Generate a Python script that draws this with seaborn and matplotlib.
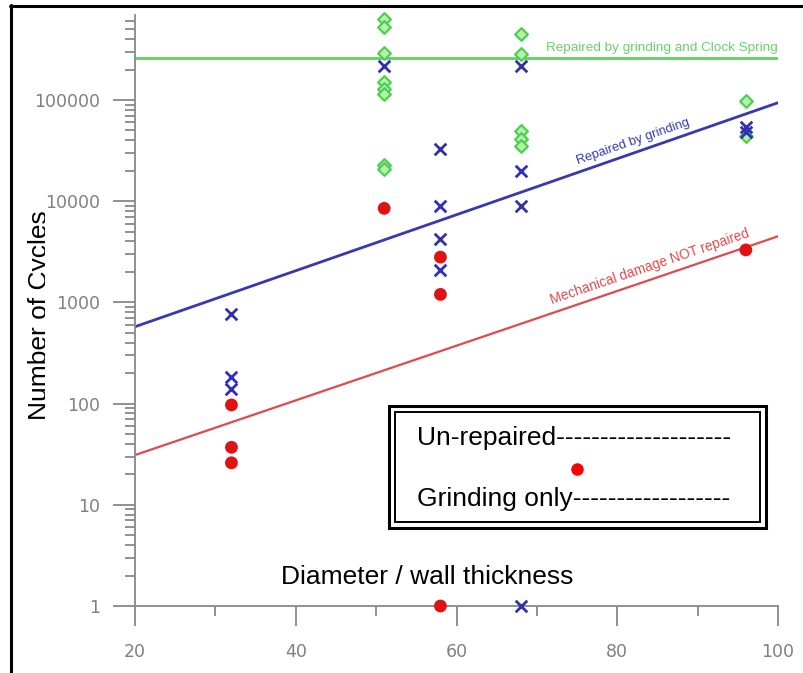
import numpy as np
import matplotlib
matplotlib.use("Agg")
import matplotlib.pyplot as plt
import seaborn as sns
from matplotlib.patches import Rectangle
from matplotlib.lines import Line2D
from matplotlib.ticker import LogLocator, NullFormatter

sns.set_theme(style="white")
plt.rcParams["font.family"] = ["Liberation Sans", "DejaVu Sans"]
plt.rcParams["text.color"] = "black"

# un-repaired specimens (red dots)
unrep_x = [32, 32, 32, 51, 58, 58, 58, 96]
unrep_y = [97, 37, 26, 8500, 2800, 1200, 1, 3300]

# repaired by grinding only (blue crosses)
grind_x = [32, 32, 32, 51, 58, 58, 58, 58, 68, 68, 68, 68, 96, 96]
grind_y = [776, 185, 141, 218000, 32500, 8900, 4200, 2100, 218000, 20000, 8900, 1, 54000, 48000]

# repaired by grinding and clock spring (green diamonds)
clock_x = [51, 51, 51, 51, 51, 51, 51, 51, 68, 68, 68, 68, 68, 96, 96]
clock_y = [630000, 530000, 293000, 150000, 128000, 115000, 23000, 21000,
           447000, 286000, 49000, 41000, 35000, 98000, 44000]

# trend lines (end values at x = 20 and x = 100)
fit_x = [20, 100]
fit_unrep = [31, 4500]
fit_grind = [575, 94000]
fit_clock = [262000, 262000]

yticks = [1, 10, 100, 1000, 10000, 100000]
ytick_labels = ["1", "10", "100", "1000", "10000", "100000"]
xticks = [20, 40, 60, 80, 100]

W, H = 804, 673


def px(x, y):
    # pixel position (from top-left) -> figure fraction
    return x / W, 1 - y / H


fig = plt.figure(figsize=(W / 100, H / 100), dpi=100)
ax = fig.add_axes([135 / W, 67 / H, 643 / W, 591 / H])
ax.set_yscale("log")
ax.set_xlim(20, 100)
ax.set_ylim(1, 10 ** 5.84)

# white strip that hides the right edge of the y title (as in the scanned original)
cover = fig.add_axes([45.5 / W, 0, 89 / W, 1 - 8 / H], zorder=-0.5)
cover.set_facecolor("white")
cover.set_xticks([])
cover.set_yticks([])
for sp in cover.spines.values():
    sp.set_visible(False)

# trend lines
sns.lineplot(x=fit_x, y=fit_clock, color="#5fd35f", lw=2, ax=ax)
sns.lineplot(x=fit_x, y=fit_grind, color="#3838b0", lw=2, ax=ax)
sns.lineplot(x=fit_x, y=fit_unrep, color="#e04a4a", lw=1.6, ax=ax)

# data points
sns.scatterplot(x=clock_x, y=clock_y, marker="D", s=42, color="#b5f0ad",
                edgecolor="#4fcf4f", linewidth=1.6, ax=ax, zorder=4, clip_on=False)
sns.scatterplot(x=grind_x, y=grind_y, marker="x", s=70, color="#3030b0",
                linewidth=2, ax=ax, zorder=5, clip_on=False)
sns.scatterplot(x=unrep_x, y=unrep_y, marker="o", s=85, color="#e01212",
                edgecolor="none", ax=ax, zorder=6, clip_on=False)


def line_angle(yv):
    p1 = ax.transData.transform((fit_x[0], yv[0]))
    p2 = ax.transData.transform((fit_x[1], yv[1]))
    return np.degrees(np.arctan2(p2[1] - p1[1], p2[0] - p1[0]))


def line_at(x, yv):
    return 10 ** np.interp(x, fit_x, np.log10(yv))


ax.annotate("Repaired by grinding and Clock Spring", xy=(100, fit_clock[1]),
            xytext=(0, 3), textcoords="offset points", ha="right", va="bottom",
            fontsize=9.7, color="#66d466")
ax.annotate("Repaired by grinding", xy=(82.2, line_at(82.2, fit_grind)),
            xytext=(0, 4), textcoords="offset points", ha="center", va="bottom",
            rotation=line_angle(fit_grind), rotation_mode="anchor",
            fontsize=9.3, color="#3838b0")
ax.annotate("Mechanical damage NOT repaired", xy=(84.3, line_at(84.3, fit_unrep)),
            xytext=(0, 4), textcoords="offset points", ha="center", va="bottom",
            rotation=line_angle(fit_unrep), rotation_mode="anchor",
            fontsize=9.8, color="#e04a4a")

# axes styling
for side in ["top", "right"]:
    ax.spines[side].set_visible(False)
for side in ["left", "bottom"]:
    ax.spines[side].set_color("#888888")
    ax.spines[side].set_linewidth(1.3)

ax.set_yticks(yticks, labels=ytick_labels)
ax.yaxis.set_minor_locator(LogLocator(base=10, subs=np.arange(2, 10)))
ax.yaxis.set_minor_formatter(NullFormatter())
ax.set_xticks(xticks)
ax.set_xticks([30, 50, 70, 90], minor=True)
ax.tick_params(left=True, bottom=True, which="both", direction="out",
               color="#888888", width=1.3, labelcolor="#808080",
               labelfontfamily="DejaVu Sans", labelsize=12.5)
ax.tick_params(axis="y", which="major", length=16, pad=9)
ax.tick_params(axis="y", which="minor", length=7)
ax.tick_params(axis="x", which="major", length=14.5, pad=12)
ax.tick_params(axis="x", which="minor", length=7.5)
ax.grid(False)

# axis titles
fig.text(*px(427, 577), "Diameter / wall thickness", fontsize=19,
         ha="center", va="center")
fig.text(*px(47.5, 315), "Number of Cycles", fontsize=19, rotation=90,
         rotation_mode="anchor", ha="center", va="baseline", zorder=-1)

# legend box with double border
x0, y0 = px(389, 528)
x1, y1 = px(766, 406)
fig.patches.append(Rectangle((x0, y0), x1 - x0, y1 - y0, transform=fig.transFigure,
                             fill=False, ec="black", lw=2.2, zorder=7))
x0, y0 = px(395, 522)
x1, y1 = px(760, 412)
fig.patches.append(Rectangle((x0, y0), x1 - x0, y1 - y0, transform=fig.transFigure,
                             fill=True, fc="white", ec="black", lw=1.4, zorder=7))
fig.text(*px(417, 438), "Un-repaired" + "-" * 20, fontsize=19, ha="left",
         va="center", zorder=8)
fig.text(*px(417, 499), "Grinding only" + "-" * 18, fontsize=19, ha="left",
         va="center", zorder=8)
fig.lines.append(Line2D([px(577, 469)[0]], [px(577, 469)[1]], transform=fig.transFigure,
                        marker="o", ms=9, color="#ff0000", mec="none", zorder=8))

# outer frame
fig.lines.append(Line2D([px(11.5, 5)[0], px(11.5, 673)[0]], [px(11.5, 5)[1], px(11.5, 673)[1]],
                        transform=fig.transFigure, color="black", lw=2.2))
fig.lines.append(Line2D([px(10, 5.5)[0], px(804, 5.5)[0]], [px(10, 5.5)[1], px(804, 5.5)[1]],
                        transform=fig.transFigure, color="black", lw=2.2))

fig.savefig("out.png", dpi=100, facecolor="white")
